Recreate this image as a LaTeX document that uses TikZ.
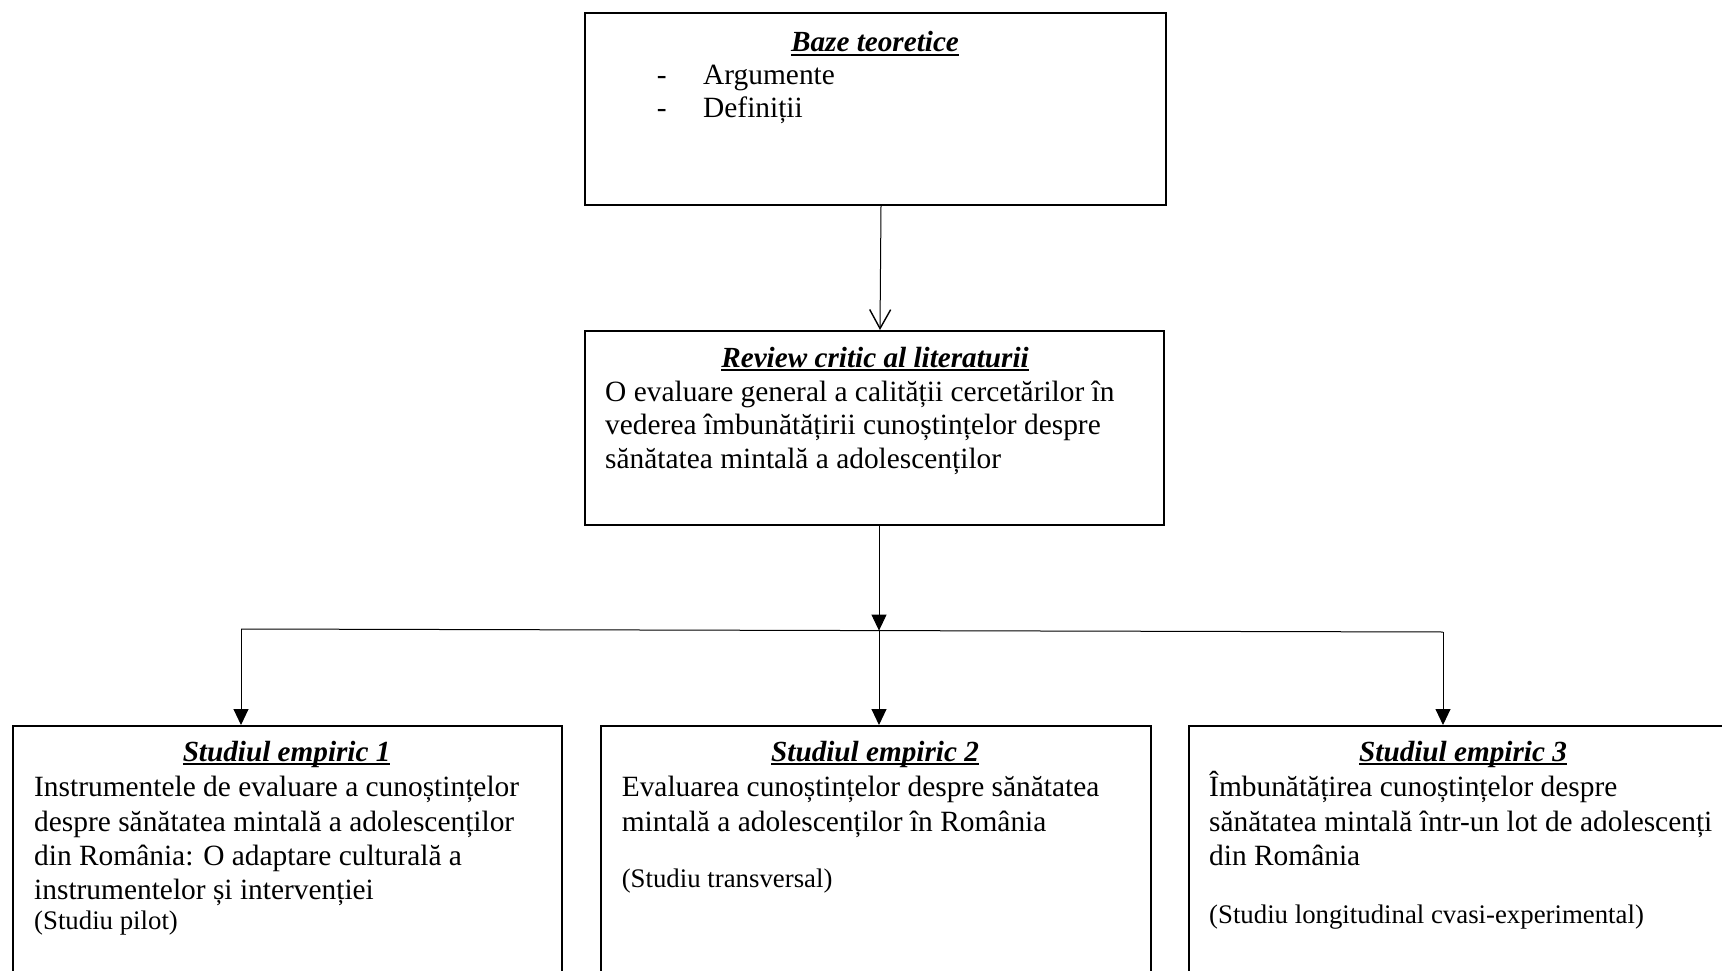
\documentclass[tikz,border=0pt]{standalone}
\usepackage{fontspec}
\setmainfont{Liberation Serif}
\usetikzlibrary{arrows.meta}
\newcommand\myul[1]{\setbox0\hbox{#1}\rlap{\rule[-4pt]{\wd0}{2pt}}\box0}
\begin{document}
\begin{tikzpicture}[x=1pt,y=-1pt,
  box/.style={draw, line width=2pt, rectangle, anchor=north west, inner sep=0pt},
  ttl/.style={anchor=base, inner sep=0pt, font=\fontsize{29.2}{33.5}\selectfont\bfseries\itshape},
  txt/.style={anchor=base west, inner sep=0pt, font=\fontsize{29.4}{33.5}\selectfont},
  sml/.style={anchor=base west, inner sep=0pt, font=\fontsize{26.8}{30}\selectfont},
  conn/.style={line width=1pt},
  open/.style={conn, -{Straight Barb[length=19pt,width=21pt,line width=1.4pt]}},
  fill/.style={conn, -{Triangle[length=16pt,width=15pt]}},
]
\useasboundingbox (0,0) rectangle (1722,971);
\fill[white] (0,0) rectangle (1722,971);
\clip (0,0) rectangle (1722,971);

% boxes
\node[box, minimum width=581pt, minimum height=192pt] (b1) at (584,12) {};
\node[box, minimum width=579pt, minimum height=194pt] (b2) at (584,330) {};
\node[box, minimum width=549pt, minimum height=400pt] (s1) at (12,725) {};
\node[box, minimum width=550pt, minimum height=400pt] (s2) at (600,725) {};
\node[box, minimum width=550pt, minimum height=400pt] (s3) at (1188,725) {};

% box 1 text
\node[ttl] (t1) at (875,52) {\myul{Baze teoretice}};
\node[txt] (a1) at (656.7,84.5) {-};
\node[txt] (a2) at (703,84.5) {Argumente};
\node[txt] (d1) at (656.7,117.5) {-};
\node[txt] (d2) at (703,117.5) {Definiții};

% box 2 text
\node[ttl] (t2) at (875,367) {\myul{Review critic al literaturii}};
\node[txt] (r1) at (605,401) {O evaluare general a calității cercetărilor în};
\node[txt] (r2) at (605,434.5) {vederea îmbunătățirii cunoștințelor despre};
\node[txt] (r3) at (605,468) {sănătatea mintală a adolescenților};

% study 1
\node[ttl] (t3) at (286.6,761) {\myul{Studiul empiric 1}};
\node[txt] (p1) at (34,796) {Instrumentele de evaluare a cunoștințelor};
\node[txt] (p2) at (34,831) {despre sănătatea mintală a adolescenților};
\node[txt] (p3) at (34,865) {din România: O adaptare culturală a};
\node[txt] (p4) at (34,899) {instrumentelor și intervenției};
\node[sml] (p5) at (34,929) {(Studiu pilot)};

% study 2
\node[ttl] (t4) at (875,761) {\myul{Studiul empiric 2}};
\node[txt] (q1) at (621.6,796) {Evaluarea cunoștințelor despre sănătatea};
\node[txt] (q2) at (621.6,831) {mintală a adolescenților în România};
\node[sml] (q3) at (621.6,887) {(Studiu transversal)};

% study 3
\node[ttl] (t5) at (1463,761) {\myul{Studiul empiric 3}};
\node[txt] (u1) at (1209,796) {Îmbunătățirea cunoștințelor despre};
\node[txt] (u2) at (1209,831) {sănătatea mintală într-un lot de adolescenți};
\node[txt] (u3) at (1209,865) {din România};
\node[sml] (u4) at (1209,923.6) {(Studiu longitudinal cvasi-experimental)};

% connectors
\draw[open] ([xshift=5.5pt]b1.south) -- ([xshift=5.5pt]b2.north);
\coordinate (hl) at (241,629);
\coordinate (hr) at (1443,632);
\coordinate (j) at (879,630.6);
\draw[fill] ([xshift=4.5pt]b2.south) -- (j);
\draw[conn] (hl) -- (hr);
\draw[fill] (hl) -- (hl |- s1.north);
\draw[fill] (j) -- (j |- s2.north);
\draw[fill] (hr) -- (hr |- s3.north);
\end{tikzpicture}
\end{document}
